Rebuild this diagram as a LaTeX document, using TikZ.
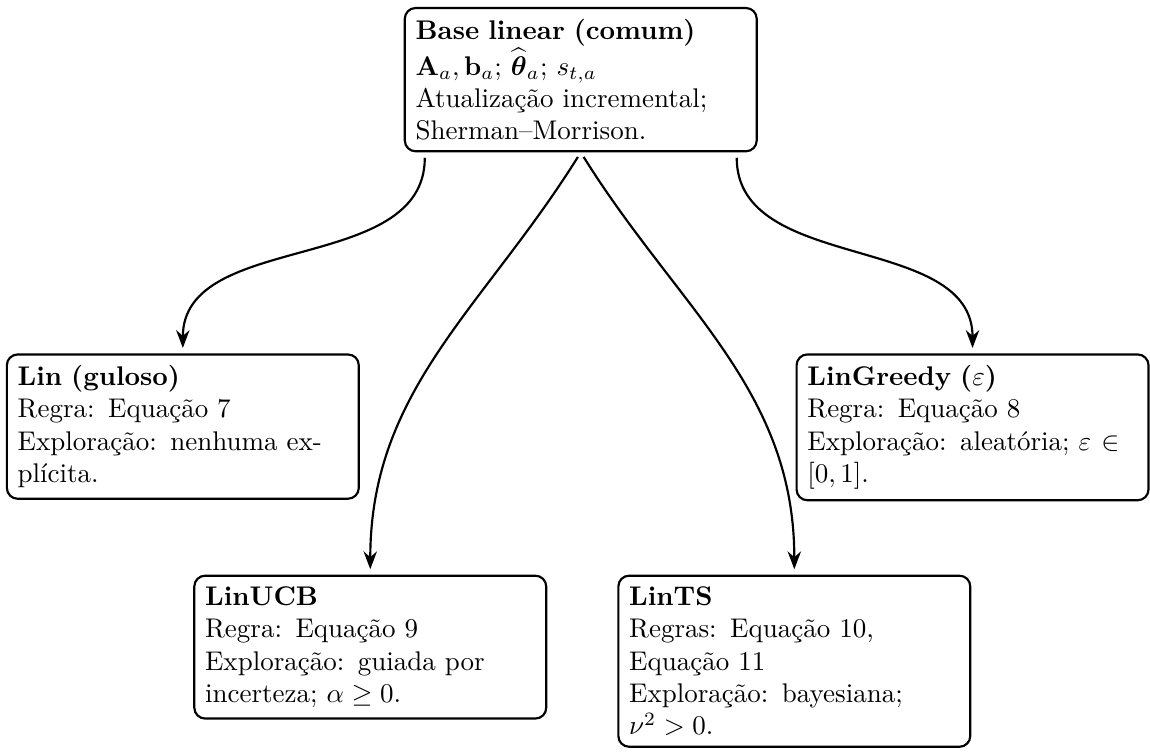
\documentclass[tikz,border=0pt]{standalone}
\usepackage{amsmath}
\usetikzlibrary{arrows.meta}

\tikzset{
  algbox/.style={draw, thick, rounded corners=4pt, text width=4.3cm, align=left, inner sep=4pt, anchor=north},
  flowarrow/.style={-Stealth, thick, shorten <=2pt, shorten >=2pt},
}

\begin{document}
\begin{tikzpicture}
  \useasboundingbox (0,0) rectangle (14.97,-9.78);

  % common linear part
  \node[algbox] (base) at (7.56,-0.09) {\textbf{Base linear (comum)}\\
    $\mathbf{A}_a, \mathbf{b}_a$; $\widehat{\boldsymbol{\theta}}_a$; $s_{t,a}$\\
    Atualização incremental; Sherman--Morrison.};

  % the four policies
  \node[algbox] (lin) at (2.38,-4.60) {\textbf{Lin (guloso)}\\
    Regra: Equação 7\\
    Exploração: nenhuma ex\-plícita.};
  \node[algbox] (greedy) at (12.66,-4.60) {\textbf{LinGreedy ($\varepsilon$)}\\
    Regra: Equação 8\\
    Exploração: aleatória; $\varepsilon \in [0,1]$.};
  \node[algbox] (ucb) at (4.82,-7.48) {\textbf{LinUCB}\\
    Regra: Equação 9\\
    Exploração: guiada por incerteza; $\alpha \geq 0$.};
  \node[algbox] (ts) at (10.34,-7.48) {\textbf{LinTS}\\
    Regras: Equação 10, Equação 11\\
    Exploração: bayesiana; $\nu^2 > 0$.};

  \draw[flowarrow] (base.205) to[out=-90, in=90] (lin.north);
  \draw[flowarrow] (base.south) to[out=-122, in=90] (ucb.north);
  \draw[flowarrow] (base.south) to[out=-58, in=90] (ts.north);
  \draw[flowarrow] (base.335) to[out=-90, in=90] (greedy.north);
\end{tikzpicture}
\end{document}
